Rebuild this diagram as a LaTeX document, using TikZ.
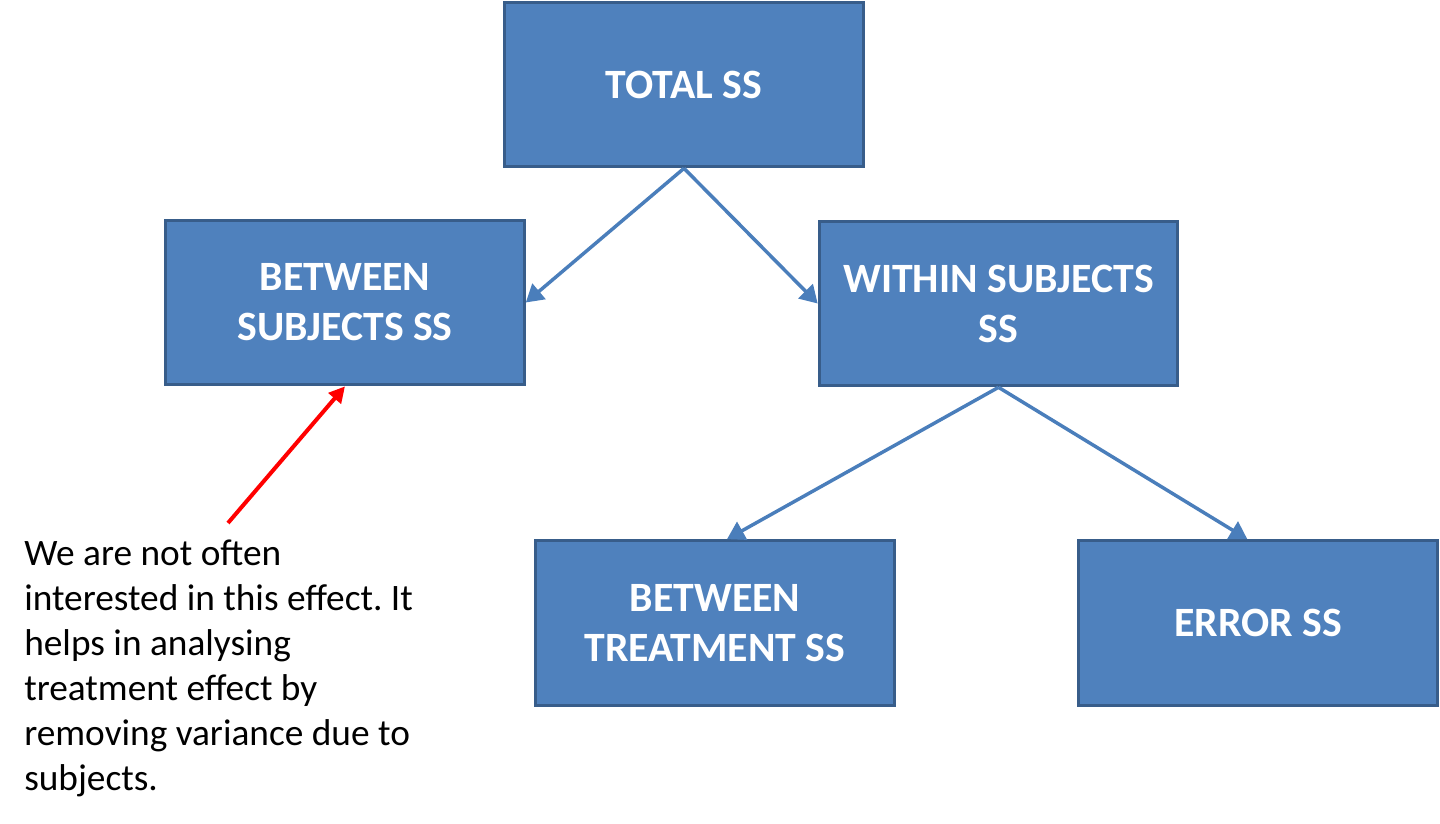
\documentclass[tikz,border=0pt]{standalone}
\usepackage{fontspec}
\setmainfont{Carlito}
\usetikzlibrary{arrows.meta,calc}
\definecolor{boxfill}{HTML}{4F81BD}
\definecolor{boxline}{HTML}{385D8A}
\definecolor{arrowblue}{HTML}{4A7EBB}
\frenchspacing
\tikzset{
  ssbox/.style={draw=boxline, line width=2.25pt, fill=boxfill, text=white,
    font=\fontsize{31.3pt}{37.5pt}\selectfont\bfseries, align=center,
    minimum width=269pt, minimum height=123.5pt, inner sep=0pt},
  bluearrow/.style={draw=arrowblue, line width=2.6pt, -{Triangle[length=13pt,width=15pt]}},
  redarrow/.style={draw=red, line width=3pt, -{Triangle[length=12pt,width=12pt]}},
  note/.style={font=\fontsize{28pt}{33.75pt}\selectfont, align=left, inner sep=0pt, anchor=north west}
}
\begin{document}
\begin{tikzpicture}[x=0.75pt,y=-0.75pt]
\useasboundingbox (0,0) rectangle (1440,824);
\node[ssbox] (total) at (684,84.5) {TOTAL SS};
\node[ssbox] (bss) at (345,302.5) {BETWEEN\\SUBJECTS SS};
\node[ssbox] (wss) at (998.5,303.5) {WITHIN SUBJECTS\\SS};
\node[ssbox] (bt) at (715,623) {BETWEEN\\TREATMENT SS};
\node[ssbox] (err) at (1258,623) {ERROR SS};
\draw[bluearrow] (total.south) -- (bss.east);
\draw[bluearrow] (total.south) -- (wss.west);
\draw[bluearrow] (wss.south) -- ([xshift=9pt]bt.north);
\draw[bluearrow] (wss.south) -- ([xshift=-8pt]err.north);
\node[note] (txt) at (24,540) {We are not often\\interested in this effect. It\\helps in analysing\\treatment effect by\\removing variance due to\\subjects.};
\coordinate (redstart) at (228,523);
\draw[redarrow] (redstart) -- (bss.south);
\end{tikzpicture}
\end{document}
